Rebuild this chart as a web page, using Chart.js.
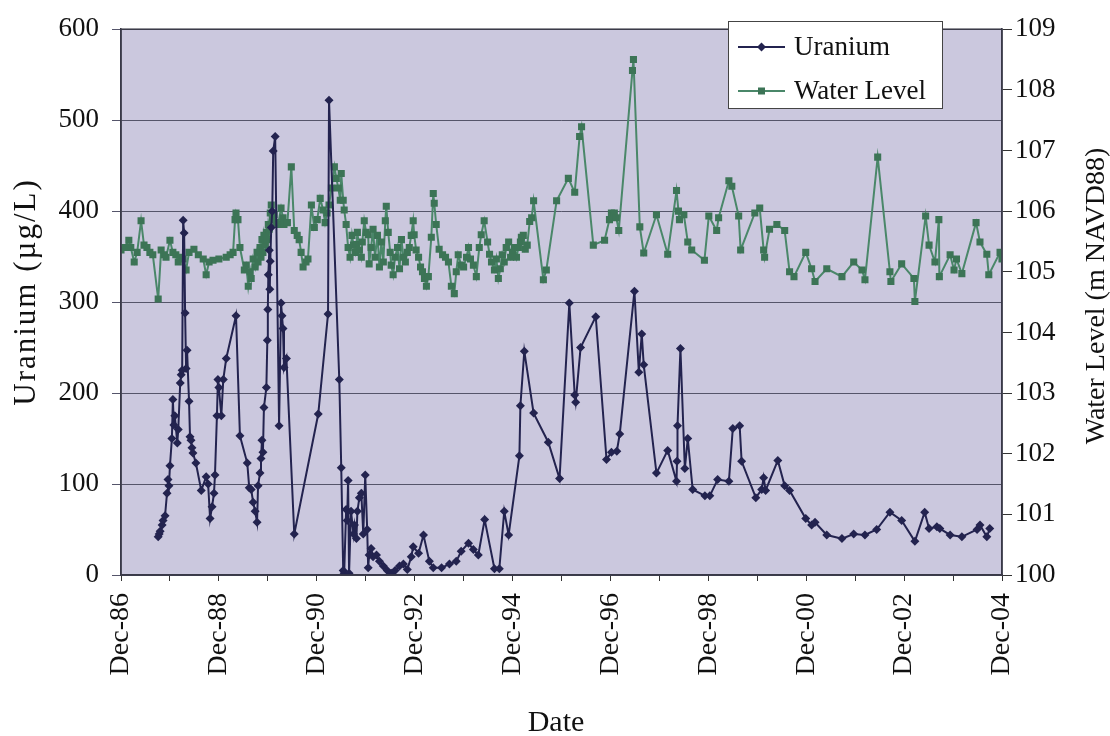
<!DOCTYPE html>
<html>
<head>
<meta charset="utf-8">
<title>Uranium and Water Level</title>
<script src="https://cdn.jsdelivr.net/npm/chart.js@4.4.1/dist/chart.umd.min.js"></script>
<style>
  html, body { margin: 0; padding: 0; background: #fff; }
  #caixa { width: 1110px; height: 736px; position: relative; }
</style>
</head>
<body>
<div id="caixa"><canvas id="grafico"></canvas></div>
<script>
// Sample dates as decimal years, uranium in ug/L
const uraniumDates = [
  1987.68, 1987.70, 1987.72, 1987.76, 1987.78, 1987.82, 1987.86, 1987.88, 1987.90, 1987.92,
  1987.96, 1987.98, 1988.00, 1988.02, 1988.07, 1988.09, 1988.13, 1988.15, 1988.17, 1988.19,
  1988.21, 1988.23, 1988.25, 1988.27, 1988.31, 1988.33, 1988.35, 1988.37, 1988.39, 1988.45,
  1988.56, 1988.66, 1988.70, 1988.74, 1988.78, 1988.82, 1988.84, 1988.88, 1988.90, 1988.92,
  1988.97, 1989.01, 1989.07, 1989.27, 1989.35, 1989.50, 1989.54, 1989.58, 1989.62, 1989.66,
  1989.70, 1989.72, 1989.76, 1989.78, 1989.80, 1989.82, 1989.84, 1989.89, 1989.91, 1989.92,
  1989.93, 1989.95, 1989.96, 1989.97, 1989.99, 1990.01, 1990.03, 1990.07, 1990.15, 1990.19,
  1990.21, 1990.23, 1990.25, 1990.30, 1990.46, 1990.95, 1991.15, 1991.17, 1991.38, 1991.42,
  1991.46, 1991.48, 1991.52, 1991.54, 1991.56, 1991.58, 1991.62, 1991.67, 1991.69, 1991.73,
  1991.75, 1991.79, 1991.83, 1991.87, 1991.91, 1991.95, 1991.97, 1991.99, 1992.03, 1992.07,
  1992.14, 1992.20, 1992.28, 1992.36, 1992.44, 1992.52, 1992.61, 1992.69, 1992.77, 1992.85,
  1992.89, 1993.00, 1993.10, 1993.22, 1993.30, 1993.47, 1993.63, 1993.77, 1993.87, 1994.02,
  1994.12, 1994.22, 1994.35, 1994.55, 1994.65, 1994.75, 1994.84, 1995.06, 1995.08, 1995.16,
  1995.35, 1995.65, 1995.88, 1996.08, 1996.19, 1996.21, 1996.31, 1996.62, 1996.84, 1996.94,
  1997.05, 1997.11, 1997.41, 1997.50, 1997.56, 1997.60, 1997.86, 1998.09, 1998.27, 1998.28,
  1998.29, 1998.35, 1998.44, 1998.50, 1998.60, 1998.85, 1998.95, 1999.11, 1999.34, 1999.42,
  1999.56, 1999.60, 1999.89, 2000.01, 2000.05, 2000.09, 2000.34, 2000.48, 2000.58, 2000.91,
  2001.03, 2001.10, 2001.34, 2001.65, 2001.89, 2002.12, 2002.36, 2002.63, 2002.87, 2003.14,
  2003.34, 2003.43, 2003.59, 2003.65, 2003.86, 2004.10, 2004.41, 2004.47, 2004.61, 2004.67
];
const uraniumValues = [
  42, 45, 48, 55, 60, 65, 90, 105, 98, 120,
  150, 193, 165, 175, 145, 160, 211, 220, 225, 390,
  376, 288, 227, 247, 191, 152, 148, 140, 134, 123,
  93, 108, 100, 62, 75, 90, 110, 175, 215, 206,
  175, 215, 238, 285, 153, 123, 96, 94, 80, 70,
  58, 98, 112, 128, 148, 135, 184, 206, 258, 292,
  330, 357, 314, 345, 382, 400, 466, 482, 164, 299,
  285, 271, 228, 238, 45, 177, 287, 522, 215, 118,
  5, 2, 72, 60, 104, 2, 70, 45, 55, 40,
  70, 85, 90, 45, 110, 50, 8, 22, 29, 20,
  22, 15, 10, 5, 2, 5, 10, 12, 6, 20,
  31, 24, 44, 15, 8, 8, 12, 15, 26, 35,
  28, 22, 61, 7, 7, 70, 44, 131, 186, 246,
  178, 146, 106, 299, 198, 190, 250, 284, 127, 135,
  136, 155, 312, 223, 265, 231, 112, 137, 103, 125,
  164, 249, 117, 150, 94, 87, 87, 105, 103, 161,
  164, 125, 85, 94, 107, 93, 126, 98, 93, 62,
  55, 58, 44, 40, 45, 44, 50, 69, 60, 37,
  69, 51, 53, 51, 44, 42, 50, 55, 42, 51
];

// Water level readings, m NAVD88
const levelDates = [
  1986.92, 1987.00, 1987.08, 1987.12, 1987.19, 1987.25, 1987.33, 1987.39, 1987.45, 1987.51,
  1987.57, 1987.68, 1987.74, 1987.80, 1987.84, 1987.92, 1987.98, 1988.04, 1988.09, 1988.15,
  1988.19, 1988.25, 1988.31, 1988.41, 1988.50, 1988.60, 1988.66, 1988.72, 1988.80, 1988.92,
  1989.07, 1989.15, 1989.21, 1989.25, 1989.27, 1989.31, 1989.35, 1989.44, 1989.48, 1989.52,
  1989.56, 1989.58, 1989.62, 1989.66, 1989.70, 1989.72, 1989.76, 1989.78, 1989.80, 1989.82,
  1989.84, 1989.87, 1989.89, 1989.91, 1989.93, 1989.95, 1989.97, 1989.99, 1990.01, 1990.05,
  1990.09, 1990.13, 1990.19, 1990.23, 1990.25, 1990.32, 1990.40, 1990.46, 1990.52, 1990.56,
  1990.60, 1990.64, 1990.70, 1990.74, 1990.81, 1990.87, 1990.93, 1990.99, 1991.05, 1991.09,
  1991.13, 1991.17, 1991.22, 1991.28, 1991.32, 1991.36, 1991.40, 1991.42, 1991.46, 1991.48,
  1991.52, 1991.56, 1991.60, 1991.64, 1991.67, 1991.71, 1991.73, 1991.75, 1991.79, 1991.83,
  1991.85, 1991.89, 1991.93, 1991.97, 1991.99, 1992.03, 1992.07, 1992.11, 1992.16, 1992.20,
  1992.24, 1992.28, 1992.32, 1992.34, 1992.38, 1992.42, 1992.44, 1992.48, 1992.52, 1992.57,
  1992.61, 1992.65, 1992.69, 1992.73, 1992.77, 1992.81, 1992.85, 1992.89, 1992.91, 1992.95,
  1993.00, 1993.04, 1993.08, 1993.12, 1993.16, 1993.20, 1993.26, 1993.30, 1993.32, 1993.36,
  1993.42, 1993.49, 1993.55, 1993.61, 1993.67, 1993.73, 1993.77, 1993.81, 1993.87, 1993.92,
  1993.98, 1994.02, 1994.06, 1994.12, 1994.18, 1994.24, 1994.28, 1994.34, 1994.41, 1994.45,
  1994.49, 1994.55, 1994.59, 1994.63, 1994.67, 1994.71, 1994.75, 1994.79, 1994.84, 1994.88,
  1994.92, 1994.96, 1995.00, 1995.04, 1995.08, 1995.10, 1995.14, 1995.18, 1995.22, 1995.27,
  1995.31, 1995.35, 1995.55, 1995.61, 1995.82, 1996.06, 1996.19, 1996.29, 1996.33, 1996.57,
  1996.80, 1996.90, 1996.94, 1997.00, 1997.04, 1997.09, 1997.37, 1997.39, 1997.52, 1997.60,
  1997.86, 1998.09, 1998.27, 1998.31, 1998.33, 1998.42, 1998.50, 1998.58, 1998.84, 1998.93,
  1999.09, 1999.13, 1999.34, 1999.40, 1999.54, 1999.58, 1999.87, 1999.97, 2000.05, 2000.07,
  2000.17, 2000.32, 2000.48, 2000.58, 2000.67, 2000.91, 2001.03, 2001.10, 2001.34, 2001.65,
  2001.89, 2002.06, 2002.12, 2002.38, 2002.63, 2002.65, 2002.87, 2003.12, 2003.14, 2003.36,
  2003.43, 2003.55, 2003.63, 2003.64, 2003.86, 2003.94, 2003.99, 2004.10, 2004.39, 2004.47,
  2004.61, 2004.65, 2004.88, 2004.92
];
const levelValues = [
  105.36, 105.40, 105.52, 105.40, 105.16, 105.32, 105.84, 105.44, 105.40, 105.32,
  105.28, 104.55, 105.36, 105.28, 105.24, 105.52, 105.32, 105.28, 105.16, 105.24,
  105.21, 105.03, 105.32, 105.37, 105.28, 105.21, 104.95, 105.16, 105.19, 105.21,
  105.24, 105.28, 105.32, 105.86, 105.97, 105.86, 105.40, 105.03, 105.11, 104.76,
  105.00, 104.89, 105.21, 105.08, 105.32, 105.16, 105.40, 105.24, 105.53, 105.32,
  105.60, 105.44, 105.65, 105.53, 105.78, 105.70, 105.97, 106.10, 105.86, 105.94,
  105.81, 105.78, 106.05, 105.89, 105.78, 105.81, 106.73, 105.68, 105.60, 105.53,
  105.32, 105.08, 105.16, 105.21, 106.10, 105.73, 105.86, 106.21, 106.02, 105.81,
  105.97, 106.10, 106.38, 106.73, 106.54, 106.38, 106.18, 106.62, 106.18, 106.02,
  105.78, 105.40, 105.24, 105.60, 105.44, 105.32, 105.45, 105.65, 105.36, 105.24,
  105.49, 105.84, 105.65, 105.61, 105.13, 105.40, 105.70, 105.24, 105.60, 105.08,
  105.49, 105.16, 105.84, 106.08, 105.65, 105.32, 105.11, 104.95, 105.24, 105.40,
  105.05, 105.53, 105.24, 105.16, 105.32, 105.40, 105.60, 105.84, 105.61, 105.36,
  105.24, 105.08, 105.00, 104.89, 104.76, 104.92, 105.57, 106.29, 106.13, 105.78,
  105.37, 105.28, 105.24, 105.16, 104.76, 104.64, 105.00, 105.28, 105.11, 105.08,
  105.24, 105.40, 105.21, 105.11, 104.92, 105.40, 105.61, 105.84, 105.49, 105.29,
  105.16, 105.03, 105.21, 104.89, 105.05, 105.28, 105.16, 105.40, 105.49, 105.24,
  105.32, 105.40, 105.24, 105.40, 105.49, 105.57, 105.60, 105.37, 105.44, 105.83,
  105.89, 106.17, 104.87, 105.03, 106.17, 106.54, 106.31, 107.23, 107.39, 105.44,
  105.52, 105.86, 105.97, 105.97, 105.89, 105.68, 108.32, 108.50, 105.74, 105.31,
  105.94, 105.29, 106.34, 106.00, 105.86, 105.94, 105.49, 105.36, 105.19, 105.92,
  105.68, 105.89, 106.50, 106.41, 105.92, 105.36, 105.97, 106.05, 105.36, 105.24,
  105.70, 105.78, 105.68, 105.00, 104.92, 105.32, 105.05, 104.84, 105.05, 104.92,
  105.16, 105.03, 104.87, 106.89, 105.00, 104.84, 105.13, 104.89, 104.51, 105.92,
  105.44, 105.16, 105.86, 104.92, 105.28, 105.03, 105.21, 104.97, 105.81, 105.49,
  105.29, 104.95, 105.32, 105.21
];

// Labels shown every second year on the date axis
const dateLabels = ['Dec-86', 'Dec-88', 'Dec-90', 'Dec-92', 'Dec-94', 'Dec-96', 'Dec-98', 'Dec-00', 'Dec-02', 'Dec-04'];

const inicioEixo = 1986.92; // Dec-86
const fimEixo = 2004.92;    // Dec-04

// One tick per year, December to December
const ticksAnuais = [];
for (let k = 0; k <= 18; k++) {
    ticksAnuais.push(Math.round((inicioEixo + k) * 100) / 100);
}

const corUranio = '#23234f';
const corNivel = '#4a8769';
const corMarcaNivel = '#3c7456';
const fonte = 'Liberation Serif, Times New Roman, serif';

function juntarPontos(xs, ys) {
    return xs.map((x, i) => ({ x: x, y: ys[i] }));
}

function textoVertical(ctx, texto, x, y) {
    ctx.save();
    ctx.translate(x, y);
    ctx.rotate(-Math.PI / 2);
    ctx.textAlign = 'center';
    ctx.textBaseline = 'middle';
    ctx.fillText(texto, 0, 0);
    ctx.restore();
}

// Plot background, frame, legend box and axis titles
const moldura = {
    id: 'moldura',
    beforeDraw(chart) {
        const { ctx, chartArea: a } = chart;
        ctx.save();
        ctx.fillStyle = '#cbc8de';
        ctx.fillRect(a.left, a.top, a.right - a.left, a.bottom - a.top);
        ctx.restore();
    },
    afterDraw(chart) {
        const { ctx, chartArea: a } = chart;
        ctx.save();

        ctx.strokeStyle = '#3a3a48';
        ctx.lineWidth = 1.5;
        ctx.strokeRect(a.left, a.top, a.right - a.left, a.bottom - a.top);

        // legend
        ctx.fillStyle = '#ffffff';
        ctx.fillRect(728, 21, 214, 87);
        ctx.strokeStyle = '#444';
        ctx.lineWidth = 1;
        ctx.strokeRect(728.5, 21.5, 214, 87);

        ctx.lineWidth = 2;
        ctx.strokeStyle = corUranio;
        ctx.beginPath(); ctx.moveTo(738, 47); ctx.lineTo(785, 47); ctx.stroke();
        ctx.fillStyle = corUranio;
        ctx.beginPath();
        ctx.moveTo(761.5 - 4.5, 47); ctx.lineTo(761.5, 42.5); ctx.lineTo(766, 47); ctx.lineTo(761.5, 51.5);
        ctx.closePath(); ctx.fill();

        ctx.strokeStyle = corNivel;
        ctx.beginPath(); ctx.moveTo(738, 91); ctx.lineTo(785, 91); ctx.stroke();
        ctx.fillStyle = corMarcaNivel;
        ctx.fillRect(758, 87.5, 7, 7);

        ctx.fillStyle = '#111';
        ctx.font = '27px ' + fonte;
        ctx.textAlign = 'left';
        ctx.textBaseline = 'middle';
        ctx.fillText('Uranium', 794, 48);
        ctx.fillText('Water Level', 794, 92);

        // axis titles
        ctx.font = '31px ' + fonte;
        ctx.letterSpacing = '2px';
        textoVertical(ctx, 'Uranium (\u00b5g/L)', 27, 292);
        ctx.letterSpacing = '0px';
        ctx.font = '28px ' + fonte;
        textoVertical(ctx, 'Water Level (m NAVD88)', 1097, 296);
        ctx.font = '30px ' + fonte;
        ctx.textAlign = 'center';
        ctx.textBaseline = 'middle';
        ctx.fillText('Date', 556, 723);

        ctx.restore();
    }
};

const ctx = document.getElementById('grafico').getContext('2d');

new Chart(ctx, {
    type: 'scatter',
    data: {
        datasets: [
            {
                label: 'Uranium',
                data: juntarPontos(uraniumDates, uraniumValues),
                yAxisID: 'y',
                showLine: true,
                borderColor: corUranio,
                borderWidth: 2,
                pointStyle: 'rectRot',
                pointRadius: 4.5,
                pointBackgroundColor: corUranio,
                pointBorderColor: corUranio,
                pointBorderWidth: 0
            },
            {
                label: 'Water Level',
                data: juntarPontos(levelDates, levelValues),
                yAxisID: 'y2',
                showLine: true,
                borderColor: corNivel,
                borderWidth: 2,
                pointStyle: 'rect',
                pointRadius: 5,
                pointBackgroundColor: corMarcaNivel,
                pointBorderColor: corMarcaNivel,
                pointBorderWidth: 0
            }
        ]
    },
    options: {
        responsive: true,
        maintainAspectRatio: false,
        animation: false,
        events: [],
        layout: { padding: { top: 19, left: 0, right: 0, bottom: 0 } },
        plugins: {
            legend: { display: false },
            title: { display: false },
            tooltip: { enabled: false }
        },
        scales: {
            x: {
                type: 'linear',
                min: inicioEixo,
                max: fimEixo,
                afterBuildTicks: (s) => { s.ticks = ticksAnuais.map(v => ({ value: v })); },
                afterFit: (s) => { s.height = 161; },
                grid: { drawOnChartArea: false, drawTicks: true, tickLength: 6, color: '#333', lineWidth: 1 },
                border: { display: true, color: '#3a3a48', width: 1.5 },
                ticks: {
                    autoSkip: false,
                    minRotation: 90,
                    maxRotation: 90,
                    padding: 12,
                    color: '#111',
                    font: { family: fonte, size: 28 },
                    callback: (v, i) => (i % 2 === 0 ? dateLabels[i / 2] : '')
                }
            },
            y: {
                position: 'left',
                min: 0,
                max: 600,
                afterFit: (s) => { s.width = 121; },
                grid: { color: '#55556a', lineWidth: 1, tickLength: 9 },
                border: { display: true, color: '#3a3a48', width: 1.5 },
                ticks: { stepSize: 100, padding: 13, color: '#111', font: { family: fonte, size: 27 } }
            },
            y2: {
                position: 'right',
                min: 100,
                max: 109,
                afterFit: (s) => { s.width = 108; },
                grid: { drawOnChartArea: false, color: '#333', lineWidth: 1, tickLength: 10 },
                border: { display: true, color: '#3a3a48', width: 1.5 },
                ticks: { stepSize: 1, padding: 3, color: '#111', font: { family: fonte, size: 27 } }
            }
        }
    },
    plugins: [moldura]
});
</script>
</body>
</html>
